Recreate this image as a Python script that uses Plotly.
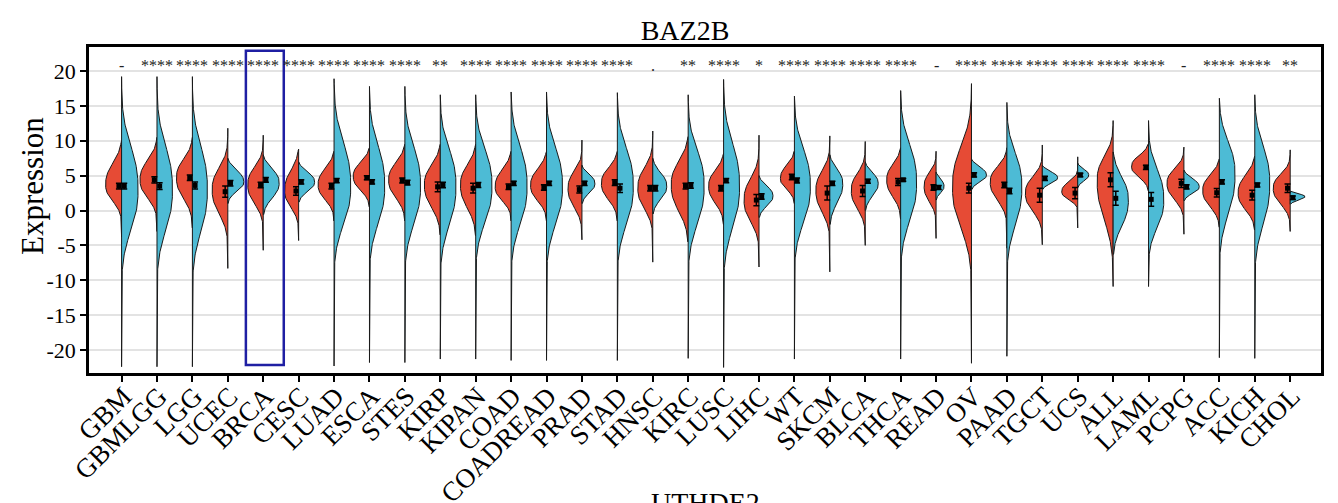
import numpy as np
import plotly.graph_objects as go

# Cancer types on the x axis
cancers = ["GBM", "GBMLGG", "LGG", "UCEC", "BRCA", "CESC", "LUAD", "ESCA", "STES", "KIRP",
           "KIPAN", "COAD", "COADREAD", "PRAD", "STAD", "HNSC", "KIRC", "LUSC", "LIHC", "WT",
           "SKCM", "BLCA", "THCA", "READ", "OV", "PAAD", "TGCT", "UCS", "ALL", "LAML",
           "PCPG", "ACC", "KICH", "CHOL"]

# Significance of tumor vs normal per cancer type
signif = ["-", "****", "****", "****", "****", "****", "****", "****", "****", "**",
          "****", "****", "****", "****", "****", ".", "**", "****", "*", "****",
          "****", "****", "****", "-", "****", "****", "****", "****", "****", "****",
          "-", "****", "****", "**"]

# Tumor (left half) distribution summaries: tail extent, body edges, mode, half-width
tumor_min = [-3.8, -3.0, -2.5, -8.3, -5.7, -4.3, -1.5, 0.5, -1.5, -3.5,
             -3.6, -1.5, -1.5, -4.2, -1.5, -7.4, -4.5, -2.0, -8.1, 1.0,
             -8.8, -5.0, -1.2, -4.0, -21.9, -5.4, -4.9, -2.5, -10.9, 2.8,
             -3.4, -2.4, -2.8, -3.0]
tumor_lo = [-1.2, -1.0, -1.5, -4.2, -2.0, -2.2, -0.8, 0.8, -1.0, -3.0,
            -3.2, -0.8, -1.0, -2.5, -1.0, -3.0, -4.2, -1.6, -5.0, 1.3,
            -3.6, -2.7, -0.7, -1.2, -9.0, -1.5, -3.0, 0.3, -7.5, 3.0,
            -1.0, -2.0, -2.5, -1.6]
tumor_mode = [3.7, 4.4, 4.7, 3.0, 3.7, 2.9, 3.7, 4.9, 4.4, 3.7,
              3.7, 3.4, 3.6, 3.2, 3.9, 3.2, 3.7, 3.5, 1.5, 4.6,
              2.9, 2.9, 4.4, 3.5, 3.4, 4.1, 2.5, 2.7, 4.4, 6.3,
              3.9, 2.9, 2.5, 3.2]
tumor_hi = [10.0, 10.2, 10.2, 9.5, 9.0, 8.8, 8.5, 9.0, 9.5, 9.5,
            9.5, 8.5, 8.5, 8.2, 8.5, 9.3, 10.6, 8.2, 8.0, 8.5,
            8.7, 8.0, 9.0, 7.5, 15.4, 8.7, 7.4, 5.6, 11.3, 9.6,
            8.2, 7.4, 7.8, 7.4]
tumor_max = [10.0, 10.5, 10.5, 11.8, 10.8, 8.8, 8.5, 9.0, 9.5, 9.5,
             9.5, 8.5, 8.5, 10.1, 8.5, 11.4, 10.6, 8.2, 10.8, 8.5,
             10.7, 9.9, 9.0, 8.5, 18.2, 9.0, 9.4, 7.7, 12.9, 9.6,
             9.1, 7.4, 7.8, 8.7]
tumor_width = [16.0, 17.0, 16.0, 15.7, 15.5, 14.0, 16.0, 16.3, 16.3, 16.0,
               15.3, 16.0, 16.0, 14.0, 16.0, 15.0, 17.0, 15.0, 15.0, 14.0,
               14.0, 14.0, 14.0, 12.0, 19.0, 16.7, 17.0, 16.0, 16.0, 17.0,
               17.0, 16.7, 16.7, 17.0]
tumor_mean = [3.5, 4.4, 4.7, 2.7, 3.66, 2.8, 3.5, 4.7, 4.3, 3.4,
              3.2, 3.4, 3.3, 3.0, 4.0, 3.2, 3.5, 3.2, 1.5, 4.8,
              2.5, 2.8, 4.1, 3.3, 3.2, 3.66, 2.2, 2.5, 4.4, 6.2,
              3.9, 2.55, 2.2, 3.2]
tumor_err = [0.4, 0.45, 0.4, 0.8, 0.4, 0.6, 0.4, 0.3, 0.35, 0.7,
             0.7, 0.4, 0.4, 0.5, 0.4, 0.4, 0.4, 0.4, 0.8, 0.4,
             1.0, 0.8, 0.5, 0.4, 0.7, 0.4, 1.0, 0.8, 1.0, 0.3,
             0.6, 0.6, 0.7, 0.6]

# Normal (right half) distribution summaries
normal_min = [-22.4, -22.4, -22.4, 1.0, -0.6, 1.2, -22.3, -21.8, -21.8, -21.3,
              -21.3, -21.5, -21.5, 1.0, -21.5, -0.5, -21.2, -22.5, -1.0, -21.3,
              -2.0, 0.0, -21.3, 1.5, 3.0, -20.9, 3.0, 3.3, -6.3, -10.9,
              1.4, -21.1, -21.2, 0.9]
normal_lo = [-9.2, -9.2, -9.6, 1.2, -0.6, 1.2, -8.0, -7.8, -8.0, -8.3,
             -7.5, -8.0, -8.0, 1.0, -8.0, -0.5, -8.0, -9.0, -1.0, -7.5,
             -2.0, 0.0, -7.5, 1.5, 3.0, -8.1, 3.0, 3.3, -6.3, -6.8,
             1.4, -6.8, -8.3, 0.9]
normal_mode = [3.0, 3.0, 3.0, 4.1, 4.0, 4.1, 3.5, 3.5, 3.5, 3.5,
               3.5, 3.5, 3.5, 3.9, 3.5, 3.5, 3.5, 3.5, 2.1, 3.5,
               3.9, 3.9, 4.0, 3.5, 5.1, 3.4, 4.7, 5.1, 1.5, 1.5,
               3.4, 5.2, 3.9, 2.0]
normal_hi = [16.0, 16.0, 16.0, 7.5, 8.0, 7.0, 16.6, 15.6, 15.4, 14.7,
             14.7, 15.4, 15.1, 6.5, 14.9, 7.5, 14.4, 16.3, 5.0, 14.7,
             8.0, 7.0, 15.4, 5.5, 7.4, 13.5, 6.5, 6.8, 8.4, 10.8,
             5.8, 15.0, 15.0, 2.8]
normal_max = [19.2, 19.2, 19.2, 7.5, 8.0, 7.0, 18.9, 17.8, 17.8, 16.6,
              16.6, 17.0, 17.0, 6.5, 16.9, 7.5, 16.6, 18.8, 5.0, 16.4,
              8.0, 7.0, 17.2, 5.5, 7.4, 15.5, 6.5, 6.8, 8.4, 12.9,
              5.8, 16.1, 16.6, 2.8]
normal_width = [16.5, 15.5, 15.0, 16.0, 16.0, 16.0, 16.7, 15.3, 15.7, 15.7,
                16.3, 16.0, 16.0, 13.0, 16.0, 14.0, 16.0, 16.0, 14.0, 16.0,
                13.0, 13.0, 16.0, 8.0, 15.0, 15.0, 15.3, 11.0, 15.3, 15.3,
                15.3, 15.7, 15.0, 14.7]
normal_mean = [3.5, 3.5, 3.6, 3.9, 4.4, 4.1, 4.3, 4.1, 4.0, 3.66,
               3.66, 3.9, 3.9, 3.9, 3.2, 3.2, 3.6, 4.3, 2.0, 4.3,
               3.9, 4.2, 4.4, 3.3, 5.1, 2.8, 4.6, 5.1, 1.75, 1.6,
               3.4, 4.1, 3.66, 1.84]
normal_err = [0.4, 0.5, 0.5, 0.4, 0.35, 0.3, 0.3, 0.3, 0.35, 0.4,
              0.35, 0.3, 0.3, 0.3, 0.6, 0.4, 0.4, 0.3, 0.4, 0.35,
              0.3, 0.3, 0.2, 0.3, 0.3, 0.4, 0.3, 0.25, 1.0, 1.0,
              0.3, 0.3, 0.3, 0.25]

highlight = "BRCA"

RED = "#E64B35"
BLUE = "#4DBBD5"
OUTLINE = "#1a1a1a"
SERIF = "Liberation Serif, Times New Roman, serif"
CAT_PX = 35.45          # pixel spacing between categories
SHAPE_P = 2.5           # exponent of the half-violin density profile


def half_profile(ymin, lo, mode, hi, ymax, width_px):
    """Width of one half violin along y, in category units."""
    y = np.linspace(ymin, ymax, 240)
    y = np.unique(np.concatenate([y, [lo, mode, hi]]))
    y = y[(y >= ymin) & (y <= ymax)]
    sd_lo = max(mode - lo, 0.05) / 2.2
    sd_hi = max(hi - mode, 0.05) / 2.2
    z = np.where(y < mode, (mode - y) / sd_lo, (y - mode) / sd_hi)
    w = (width_px / CAT_PX) * np.exp(-0.5 * np.abs(z) ** SHAPE_P)
    return y, w


fig = go.Figure()

for i, name in enumerate(cancers):
    # tumor half on the left
    y, w = half_profile(tumor_min[i], tumor_lo[i], tumor_mode[i], tumor_hi[i],
                        tumor_max[i], tumor_width[i])
    xs = np.concatenate([i - w, [i, i]])
    ys = np.concatenate([y, [y[-1], y[0]]])
    fig.add_trace(go.Scatter(x=xs, y=ys, fill="toself", fillcolor=RED, mode="lines",
                             line=dict(color=OUTLINE, width=1), showlegend=False,
                             hoverinfo="skip"))
    # normal half on the right
    y, w = half_profile(normal_min[i], normal_lo[i], normal_mode[i], normal_hi[i],
                        normal_max[i], normal_width[i])
    xs = np.concatenate([i + w, [i, i]])
    ys = np.concatenate([y, [y[-1], y[0]]])
    fig.add_trace(go.Scatter(x=xs, y=ys, fill="toself", fillcolor=BLUE, mode="lines",
                             line=dict(color=OUTLINE, width=1), showlegend=False,
                             hoverinfo="skip"))

idx = np.arange(len(cancers))
offset = 0.075
fig.add_trace(go.Scatter(x=idx - offset, y=tumor_mean, mode="markers",
                         marker=dict(symbol="square", size=5, color="black"),
                         error_y=dict(type="data", array=tumor_err, color="black",
                                      thickness=1.5, width=3),
                         showlegend=False))
fig.add_trace(go.Scatter(x=idx + offset, y=normal_mean, mode="markers",
                         marker=dict(symbol="square", size=5, color="black"),
                         error_y=dict(type="data", array=normal_err, color="black",
                                      thickness=1.5, width=3),
                         showlegend=False))

# significance labels above each pair
for i, s in enumerate(signif):
    fig.add_annotation(x=i, y=20.8, text=s, showarrow=False, xref="x", yref="y",
                       font=dict(family=SERIF, size=16, color="#222222"))

# highlight frame around one cancer type
hi_i = cancers.index(highlight)
fig.add_shape(type="rect", xref="x", yref="y", x0=hi_i - 0.49, x1=hi_i + 0.58,
              y0=-22.15, y1=22.9, line=dict(color="#1f1fa3", width=2.5),
              fillcolor="rgba(0,0,0,0)")

# y axis title
fig.add_annotation(x=32, y=186, xref="paper", yref="paper", text="Expression",
                   textangle=-90, showarrow=False, xanchor="center", yanchor="middle",
                   font=dict(family=SERIF, size=31, color="black"))
fig.layout.annotations[-1].update(x=(32 - 89) / 1232, y=(373 - 186) / 326)

# next panel's title, partly below the page edge
fig.add_annotation(x=0.5, y=-0.345, xref="paper", yref="paper", text="UTHDE2",
                   showarrow=False, yanchor="top",
                   font=dict(family=SERIF, size=28, color="black"))

y_ticks = [-20, -15, -10, -5, 0, 5, 10, 15, 20]

fig.update_layout(
    width=1338, height=503,
    margin=dict(l=89, r=17, t=47, b=130, autoexpand=False),
    paper_bgcolor="white", plot_bgcolor="white",
    title=dict(text="BAZ2B", x=685 / 1338, xanchor="center", y=0.94, yanchor="middle",
               font=dict(family=SERIF, size=28, color="black")),
    xaxis=dict(range=[-0.92, 33.87], tickvals=list(idx), ticktext=cancers,
               tickangle=-45, ticks="outside", ticklen=6, tickwidth=2, tickcolor="black",
               ticklabelshift=2, ticklabelstandoff=-12, automargin=False,
               showline=True, linewidth=2.5, linecolor="black", mirror=True,
               showgrid=False, zeroline=False,
               tickfont=dict(family=SERIF, size=27, color="black")),
    yaxis=dict(range=[-23.3, 23.45], tickvals=y_ticks,
               ticktext=[str(v) for v in y_ticks], automargin=False,
               ticks="outside", ticklen=6, tickwidth=2, tickcolor="black",
               showline=True, linewidth=2.5, linecolor="black", mirror=True,
               showgrid=True, gridcolor="#E3E3E3", gridwidth=1.5, zeroline=False,
               tickfont=dict(family=SERIF, size=22, color="black")),
)

fig.write_html("out.html")
